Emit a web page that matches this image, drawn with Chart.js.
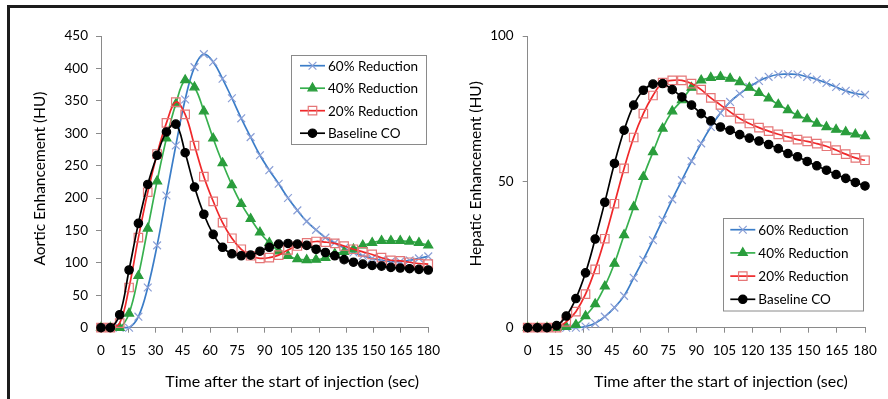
<!DOCTYPE html>
<html>
<head>
<meta charset="utf-8">
<script src="https://cdn.jsdelivr.net/npm/chart.js@4.4.1/dist/chart.umd.min.js"></script>
<style>
  html, body { margin: 0; padding: 0; background: #fff; }
  #page { position: relative; width: 888px; height: 399px; overflow: hidden; background: #fff; }
  .rule-top { position: absolute; left: 7px; top: 5px; width: 881px; height: 3px; background: #1c1c1c; }
  .rule-left { position: absolute; left: 7px; top: 5px; width: 3px; height: 394px; background: #1c1c1c; }
  canvas { position: absolute; }
  #aorta { left: 10px; top: 10px; }
  #liver { left: 450px; top: 10px; }
</style>
</head>
<body>
<div id="page">
  <div class="rule-top"></div>
  <div class="rule-left"></div>
  <canvas id="aorta" width="440" height="389"></canvas>
  <canvas id="liver" width="438" height="389"></canvas>
</div>
<script>
// sample times (sec) shared by every curve
const seconds = [0, 5.143, 10.286, 15.429, 20.571, 25.714, 30.857, 36, 41.143, 46.286,
  51.429, 56.571, 61.714, 66.857, 72, 77.143, 82.286, 87.429, 92.571, 97.714,
  102.857, 108, 113.143, 118.286, 123.429, 128.571, 133.714, 138.857, 144, 149.143,
  154.286, 159.429, 164.571, 169.714, 174.857, 180];

const seriesNames = ['60% Reduction', '40% Reduction', '20% Reduction', 'Baseline CO'];

// aortic enhancement (HU)
const aorta60 = [0, 0, 0, 0, 17, 62, 127, 204, 281, 352, 402, 422, 410, 384, 354, 323, 294, 266, 243, 222,
  200, 181, 164, 151, 139, 131, 123, 116, 111, 107, 104, 102, 102, 104, 107, 110];
const aorta40 = [0, 0, 0, 22, 80, 153, 226, 292, 345, 382, 371, 334, 292, 254, 220, 191, 168, 147, 131, 118,
  111, 106, 104.5, 105, 108, 114, 117, 121, 127, 131, 134, 134, 134, 133, 131, 127];
const aorta20 = [0, 0, 7, 62, 139, 209, 268, 316, 348, 329, 281, 233, 195, 162, 138, 121, 111, 107, 108, 112,
  120, 126, 131, 133, 132, 130, 126, 121, 117, 113, 108, 104, 103, 101, 99, 98];
const aortaBase = [0, 0, 20, 89, 161, 221, 266, 302, 314, 270, 217, 175, 144, 124, 114, 111, 112, 118, 124, 129,
  130, 129, 127, 121, 116, 111, 105, 101, 98, 96, 95, 93, 92, 91, 90, 89];

// hepatic enhancement (HU)
const liver60 = [0, 0, 0, 0, 0, 0, 0.4, 1.5, 3.8, 6.9, 10.9, 17.1, 23.3, 30, 37, 44, 50.6, 57.1, 63.2, 68.8,
  73.6, 77.4, 80.2, 82.5, 84.6, 86, 86.8, 86.9, 86.8, 86, 85.1, 83.9, 82.5, 81.2, 80.3, 79.8];
const liver40 = [0, 0, 0, 0, 0.3, 1, 4, 8.1, 14.2, 22, 31.8, 41.4, 51.7, 60.2, 68.3, 74.2, 78, 82.3, 84.8, 85.7,
  86, 85.4, 84.2, 82.3, 80.5, 78.6, 76.5, 74.6, 72.8, 71.5, 70, 68.8, 67.9, 67.1, 66.3, 65.7];
const liver20 = [0, 0, 0, 0, 2, 5.5, 11.5, 20, 30.5, 42.5, 54.6, 65.2, 73.4, 79.6, 84, 84.8, 84.8, 83.7, 81.6, 78.8,
  76.4, 74, 71.7, 70, 68.6, 67.4, 66.3, 65.4, 64.5, 63.9, 63.1, 62.2, 60.9, 59.5, 58.2, 57.4];
const liverBase = [0, 0, 0, 0.7, 4, 10, 18.8, 30.4, 43, 56.3, 67.7, 76.3, 81.4, 83.5, 83.7, 81.6, 79.1, 76.3, 73.4, 70.9,
  68.8, 67.7, 66.2, 65, 64, 62.8, 61.4, 59.7, 58.6, 57, 55.5, 54, 52.5, 51.2, 49.8, 48.6];

const FONT = 'Lato';
const AXIS_GREY = '#8a8a8a';

const looks = [
  { line: '#3b7dc8', style: 'crossRot', radius: 5.5, fill: 'rgba(0,0,0,0)', edge: '#8b9fd6', order: 3 },
  { line: '#37b04e', style: 'triangle', radius: 5.2, fill: '#2a9d3c', edge: '#2a9d3c', order: 2 },
  { line: '#f0282a', style: 'rect', radius: 6, fill: 'rgba(0,0,0,0)', edge: '#e57677', order: 1 },
  { line: '#000000', style: 'circle', radius: 4.2, fill: '#000000', edge: '#000000', order: 0 }
];

function buildDatasets(series) {
  return series.map((values, i) => ({
    label: seriesNames[i],
    data: seconds.map((t, k) => ({ x: t, y: values[k] })),
    borderColor: looks[i].line,
    borderWidth: 1.7,
    tension: 0.4,
    pointStyle: looks[i].style,
    pointRadius: looks[i].radius,
    pointBackgroundColor: looks[i].fill,
    pointBorderColor: looks[i].edge,
    pointBorderWidth: 1.2,
    order: looks[i].order,
    clip: false
  }));
}

// legend drawn inside the plot with a grey frame
const boxLegend = {
  id: 'boxLegend',
  afterDatasetsDraw(chart, args, opts) {
    const { ctx, chartArea } = chart;
    const x0 = Math.round(chartArea.left + opts.x), y0 = Math.round(chartArea.top + opts.y);
    ctx.save();
    ctx.fillStyle = '#fff';
    ctx.fillRect(x0, y0, opts.w, opts.h);
    ctx.strokeStyle = AXIS_GREY;
    ctx.lineWidth = 1;
    ctx.strokeRect(x0 + 0.5, y0 + 0.5, opts.w, opts.h);
    chart.data.datasets.forEach((ds, i) => {
      const y = y0 + opts.first + i * opts.step;
      ctx.strokeStyle = ds.borderColor;
      ctx.lineWidth = ds.borderWidth;
      ctx.beginPath();
      ctx.moveTo(x0 + opts.lineFrom, y);
      ctx.lineTo(x0 + opts.lineFrom + 25, y);
      ctx.stroke();
      ctx.fillStyle = ds.pointBackgroundColor;
      ctx.strokeStyle = ds.pointBorderColor;
      ctx.lineWidth = ds.pointBorderWidth;
      Chart.helpers.drawPoint(ctx, {
        pointStyle: ds.pointStyle,
        radius: ds.pointRadius,
        borderWidth: ds.pointBorderWidth,
        rotation: 0
      }, x0 + opts.lineFrom + 12.5, y);
      ctx.fillStyle = '#000';
      ctx.font = `13.5px ${FONT}`;
      ctx.textAlign = 'left';
      ctx.textBaseline = 'middle';
      ctx.fillText(ds.label, x0 + opts.lineFrom + 28, y + 0.5);
    });
    ctx.restore();
  }
};

// axis captions placed relative to the plot area
const captions = {
  id: 'captions',
  afterDraw(chart, args, opts) {
    const { ctx, chartArea } = chart;
    ctx.save();
    ctx.fillStyle = '#000';
    ctx.textAlign = 'center';
    ctx.textBaseline = 'middle';
    ctx.font = `16px ${FONT}`;
    ctx.fillText(opts.xText, (chartArea.left + chartArea.right) / 2 + opts.xShift, chartArea.bottom + opts.xDrop);
    ctx.font = `15.5px ${FONT}`;
    ctx.translate(opts.yAt, (chartArea.top + chartArea.bottom) / 2 + opts.yShift);
    ctx.rotate(-Math.PI / 2);
    ctx.fillText(opts.yText, 0, 0);
    ctx.restore();
  }
};

function axisBase() {
  return {
    grid: { drawOnChartArea: false, drawTicks: true, tickLength: 5, color: AXIS_GREY },
    border: { color: AXIS_GREY, width: 1 }
  };
}

function makeChart(id, series, cfg) {
  return new Chart(document.getElementById(id), {
    type: 'line',
    data: { datasets: buildDatasets(series) },
    plugins: [boxLegend, captions],
    options: {
      responsive: false,
      animation: false,
      events: [],
      layout: { padding: { top: 26, right: cfg.padRight, left: 0, bottom: 0 } },
      scales: {
        x: {
          type: 'linear', min: 0, max: 180,
          ...axisBase(),
          ticks: { stepSize: 15, color: '#000', font: { family: FONT, size: 13.5 }, padding: 10, maxRotation: 0, autoSkip: false },
          afterFit(scale) { scale.height = 71.3; }
        },
        y: {
          min: 0, max: cfg.yMax,
          ...axisBase(),
          ticks: { stepSize: cfg.yStep, color: '#000', font: { family: FONT, size: 13.5 }, padding: cfg.yPad },
          afterFit(scale) { scale.width = cfg.yWidth; }
        }
      },
      plugins: {
        legend: { display: false },
        tooltip: { enabled: false },
        boxLegend: cfg.legend,
        captions: cfg.captions
      }
    }
  });
}

makeChart('aorta', [aorta60, aorta40, aorta20, aortaBase], {
  yMax: 450, yStep: 50, yPad: 8, yWidth: 91, padRight: 12.3,
  legend: { x: 190, y: 19, w: 135, h: 89, first: 10.7, step: 22.5, lineFrom: 9 },
  captions: { xText: 'Time after the start of injection (sec)', xShift: 27.6, xDrop: 54,
              yText: 'Aortic Enhancement (HU)', yAt: 30, yShift: -3.3 }
});

makeChart('liver', [liver60, liver40, liver20, liverBase], {
  yMax: 100, yStep: 50, yPad: 9, yWidth: 77.7, padRight: 23,
  legend: { x: 195.6, y: 182.3, w: 140, h: 92.5, first: 11.7, step: 23.2, lineFrom: 7.3 },
  captions: { xText: 'Time after the start of injection (sec)', xShift: 24.6, xDrop: 54,
              yText: 'Hepatic Enhancement (HU)', yAt: 26, yShift: -8 }
});
</script>
</body>
</html>
